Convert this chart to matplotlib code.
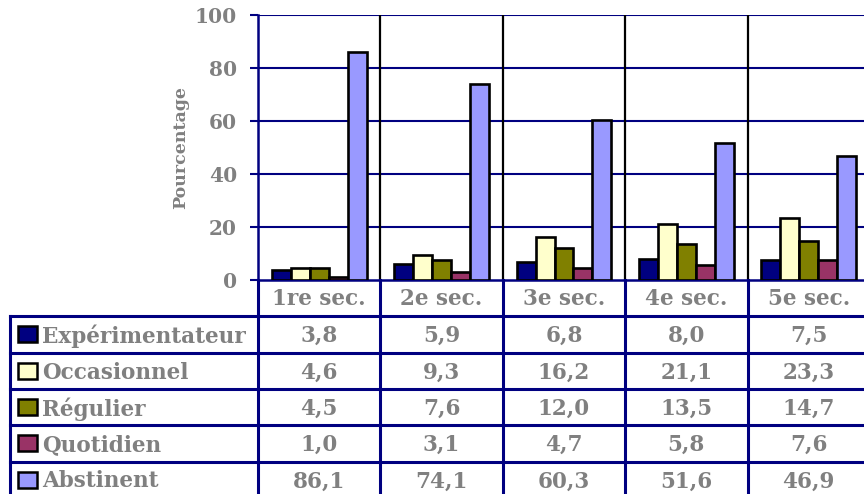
import numpy as np
import matplotlib
matplotlib.use("Agg")
import matplotlib.pyplot as plt
from matplotlib.patches import Rectangle

# data
categories = ["1re sec.", "2e sec.", "3e sec.", "4e sec.", "5e sec."]
series_names = ["Expérimentateur", "Occasionnel", "Régulier", "Quotidien", "Abstinent"]
experimentateur = [3.8, 5.9, 6.8, 8.0, 7.5]
occasionnel = [4.6, 9.3, 16.2, 21.1, 23.3]
regulier = [4.5, 7.6, 12.0, 13.5, 14.7]
quotidien = [1.0, 3.1, 4.7, 5.8, 7.6]
abstinent = [86.1, 74.1, 60.3, 51.6, 46.9]
series_values = [experimentateur, occasionnel, regulier, quotidien, abstinent]
colors = ["#000080", "#FFFFCC", "#808000", "#993366", "#9999FF"]
yticks = [0, 20, 40, 60, 80, 100]

NAVY = "#000080"
GRAY = "#808080"
FONT = "DejaVu Serif"

W, H = 864, 494
def px(l, t, r, b):
    return [l / W, 1 - b / H, (r - l) / W, (b - t) / H]

fig = plt.figure(figsize=(W / 100, H / 100), dpi=100)
fig.patch.set_facecolor("white")

# chart area (right side runs past the image edge, like the original)
ax = fig.add_axes(px(258, 15, 870, 280))
n = len(categories)
bw = 0.155
x = np.arange(n) + 0.5
for k, (vals, col) in enumerate(zip(series_values, colors)):
    ax.bar(x + (k - 2) * bw, vals, width=bw, color=col, edgecolor="black",
           linewidth=1.9, zorder=3)

ax.set_xlim(0, n)
ax.set_ylim(0, 100)
ax.set_yticks(yticks)
ax.set_xticks([])
for v in yticks[1:]:
    ax.axhline(v, color=NAVY, lw=1.5, zorder=1)
for i in range(1, n):
    ax.axvline(i, color="black", lw=1.6, zorder=2)
for s in ["top", "right"]:
    ax.spines[s].set_visible(False)
ax.spines["left"].set_color(NAVY)
ax.spines["left"].set_linewidth(1.8)
ax.spines["bottom"].set_color(NAVY)
ax.spines["bottom"].set_linewidth(1.8)
ax.tick_params(axis="y", colors=NAVY, length=6, width=1.5, pad=9)
for lab in ax.get_yticklabels():
    lab.set_color(GRAY)
    lab.set_fontfamily(FONT)
    lab.set_fontweight("bold")
    lab.set_fontsize(14.5)
ax.set_ylabel("Pourcentage", color=GRAY, fontfamily=FONT, fontweight="bold",
              fontsize=12.5, labelpad=4)

# data table under the chart
col_w = 612 / n
tax = fig.add_axes(px(10, 280, 870, 280 + 6 * 36.3))
x0 = -248 / col_w
tax.set_xlim(x0, n)
tax.set_ylim(6, 0)
tax.axis("off")

lw_t = 2.2
for r in range(1, 7):
    tax.plot([x0, n], [r, r], color=NAVY, lw=lw_t, clip_on=False)
tax.plot([x0, x0], [1, 6], color=NAVY, lw=lw_t, clip_on=False)
for i in range(0, n + 1):
    tax.plot([i, i], [0, 6], color=NAVY, lw=lw_t, clip_on=False)

txt = dict(color=GRAY, fontfamily=FONT, fontweight="bold", fontsize=15.5,
           va="center")
for i, c in enumerate(categories):
    tax.text(i + 0.5, 0.52, c, ha="center", **txt)

for r, (name, vals, col) in enumerate(zip(series_names, series_values, colors)):
    yc = r + 1.5
    key_l = (18 - 258) / col_w
    key_w = 19 / col_w
    key_h = 16 / 36.3
    tax.add_patch(Rectangle((key_l, yc - key_h / 2), key_w, key_h,
                            facecolor=col, edgecolor="black", lw=1.8,
                            clip_on=False))
    tax.text((42 - 258) / col_w, yc + 0.05, name, ha="left", **txt)
    for i, v in enumerate(vals):
        tax.text(i + 0.5, yc + 0.05, f"{v:.1f}".replace(".", ","),
                 ha="center", **txt)

fig.savefig("out.png", dpi=100)
